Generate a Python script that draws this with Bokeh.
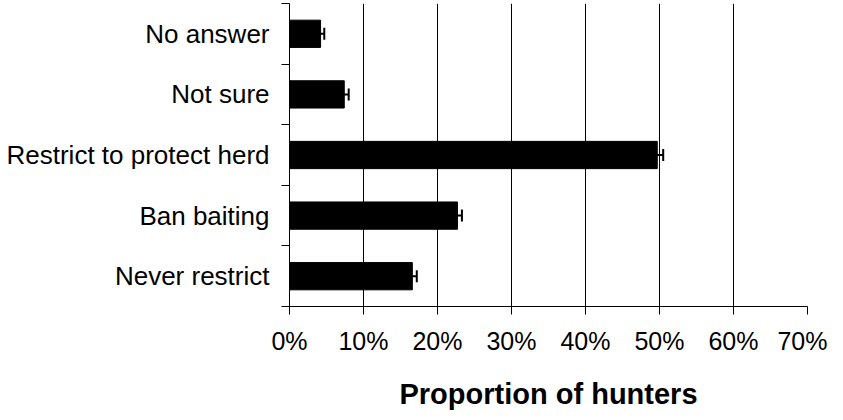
from bokeh.plotting import figure
from bokeh.models import (ColumnDataSource, Range1d, FixedTicker, Whisker, TeeHead)
from bokeh.embed import file_html
from bokeh.resources import INLINE

# Data (bottom to top)
categories = ["Never restrict", "Ban baiting", "Restrict to protect herd", "Not sure", "No answer"]
proportions = [16.6, 22.7, 49.7, 7.4, 4.2]
errors = [0.6, 0.6, 0.8, 0.6, 0.5]
x_ticks = [0, 10, 20, 30, 40, 50, 60, 70]
x_tick_labels = ["0%", "10%", "20%", "30%", "40%", "50%", "60%", "70%"]
x_title = "Proportion of hunters"

ypos = [i + 0.5 for i in range(len(categories))]
src = ColumnDataSource(dict(
    y=ypos, v=proportions,
    lo=[v - e for v, e in zip(proportions, errors)],
    hi=[v + e for v, e in zip(proportions, errors)],
))

FONT = "Liberation Sans"

p = figure(width=827, height=412, output_backend="svg", toolbar_location=None,
           x_range=Range1d(0, 70), y_range=Range1d(0, len(categories)),
           min_border_left=289, min_border_right=20, min_border_top=3,
           min_border_bottom=104)
p.outline_line_color = None
p.background_fill_color = "white"

p.hbar(y="y", left=0, right="v", height=0.45, source=src,
       fill_color="black", line_color="black")

wh = Whisker(base="y", lower="lo", upper="hi", dimension="width", source=src,
             line_color="black", line_width=2,
             upper_head=TeeHead(size=12, line_color="black", line_width=2),
             lower_head=TeeHead(size=12, line_color="black", line_width=2))
p.add_layout(wh)

# x axis
xa = p.xaxis[0]
xa.ticker = FixedTicker(ticks=x_ticks)
xa.major_label_overrides = {t: l for t, l in zip(x_ticks, x_tick_labels)}
xa.major_tick_out = 8
xa.major_tick_in = 0
xa.minor_tick_out = 0
xa.minor_tick_in = 0
xa.major_label_standoff = 12
xa.major_label_text_font = FONT
xa.major_label_text_font_size = "25px"
xa.major_label_text_color = "black"
xa.axis_line_color = "black"
xa.major_tick_line_color = "black"
xa.axis_label = x_title
xa.axis_label_text_font = FONT
xa.axis_label_text_font_style = "bold"
xa.axis_label_text_font_size = "29px"
xa.axis_label_text_color = "black"
xa.axis_label_standoff = 20

# y axis: labels at category centres, ticks at boundaries
ya = p.yaxis[0]
ya.ticker = FixedTicker(ticks=ypos, minor_ticks=list(range(len(categories) + 1)))
ya.major_label_overrides = {y: c for y, c in zip(ypos, categories)}
ya.major_tick_out = 0
ya.major_tick_in = 0
ya.minor_tick_out = 8
ya.minor_tick_in = 0
ya.minor_tick_line_color = "black"
ya.major_label_standoff = 12
ya.major_label_text_font = FONT
ya.major_label_text_font_size = "26px"
ya.major_label_text_color = "black"
ya.axis_line_color = "black"

p.xgrid.ticker = FixedTicker(ticks=x_ticks)
p.xgrid.grid_line_color = "black"
p.xgrid.grid_line_width = 1
p.ygrid.grid_line_color = None

open("out.html", "w").write(file_html(p, INLINE))
